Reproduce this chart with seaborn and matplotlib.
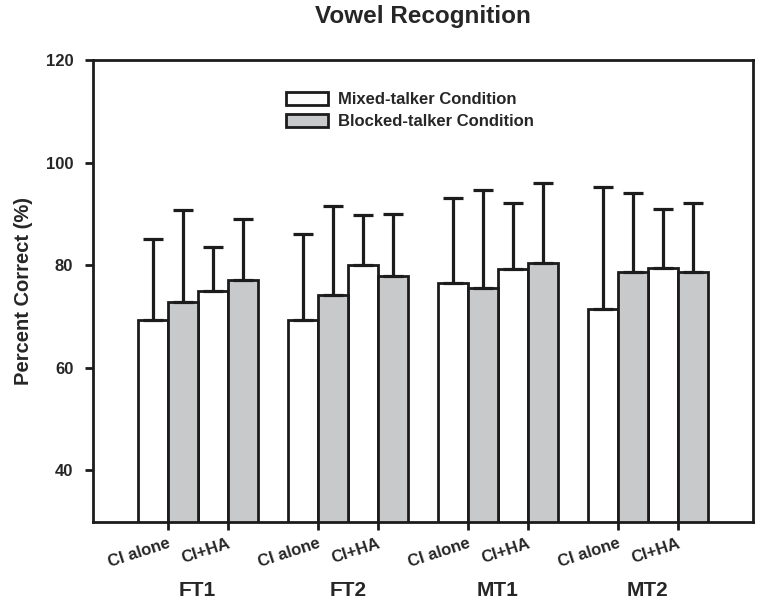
import matplotlib
matplotlib.use("Agg")
import matplotlib.pyplot as plt
import matplotlib.patches as mpatches
import matplotlib.transforms as mtransforms
import numpy as np
import pandas as pd
import seaborn as sns

groups = ['FT1', 'FT2', 'MT1', 'MT2']
conditions = ['CI alone', 'CI+HA']
mixed_mean = [69.3, 75.0, 69.3, 80.0, 76.5, 79.2, 71.5, 79.5]
mixed_sd = [15.8, 8.5, 16.8, 9.8, 16.5, 12.9, 23.8, 11.4]
blocked_mean = [72.9, 77.1, 74.1, 77.9, 75.5, 80.4, 78.6, 78.7]
blocked_sd = [17.9, 11.9, 17.4, 12.1, 19.2, 15.6, 15.5, 13.4]
series = ['Mixed-talker Condition', 'Blocked-talker Condition']
yticks = [40, 60, 80, 100, 120]

sns.set_style("ticks")
plt.rcParams['font.family'] = ['Liberation Sans', 'DejaVu Sans']

# pair centres: 4 bars per talker group, one bar-width gap between groups
pos = [g * 5 + 2.5 + c * 2 for g in range(len(groups)) for c in range(len(conditions))]
labels = [c for g in groups for c in conditions]

df = pd.DataFrame({
    'pos': pos * 2,
    'value': mixed_mean + blocked_mean,
    'sd': mixed_sd + blocked_sd,
    'series': [series[0]] * len(pos) + [series[1]] * len(pos),
})

fig = plt.figure(figsize=(7.62, 6.04), dpi=100)
ax = fig.add_axes([0.1217, 0.1363, 0.866, 0.7644])

edge = '#1c1c1c'
gray = '#c8c9cb'
sns.barplot(data=df, x='pos', y='value', hue='series', native_scale=True, width=1.0,
            palette={series[0]: 'white', series[1]: gray}, edgecolor=edge, linewidth=2,
            errorbar=None, ax=ax)

for cont, s in zip(ax.containers, series):
    sds = df[df.series == s].sd.values
    xs = [b.get_x() + b.get_width() / 2 for b in cont]
    hs = [b.get_height() for b in cont]
    ax.errorbar(xs, hs, yerr=[np.zeros(len(sds)), sds], fmt='none', ecolor=edge,
                elinewidth=2.3, capsize=7, capthick=2.3, zorder=1)

ax.set_xlim(0, 22)
ax.set_ylim(30, 120)
ax.set_yticks(yticks)
ax.set_yticklabels([str(t) for t in yticks], fontsize=12, fontweight='bold')
ax.set_xticks(pos)
ax.set_xticklabels(labels, rotation=18, ha='right', rotation_mode='anchor',
                   fontsize=12, fontweight='bold')
for lab in ax.get_xticklabels():
    lab.set_transform(lab.get_transform() + mtransforms.ScaledTranslation(0.07, 0.0, fig.dpi_scale_trans))
ax.tick_params(axis='both', direction='out', length=6, width=2, color=edge)
ax.tick_params(axis='y', pad=8)
ax.tick_params(axis='x', pad=4)
ax.set_xlabel('')
ax.set_ylabel('Percent Correct (%)', fontsize=14.5, fontweight='bold', labelpad=9)
for sp in ax.spines.values():
    sp.set_visible(True)
    sp.set_linewidth(2)
    sp.set_color(edge)

trans = mtransforms.blended_transform_factory(ax.transData, ax.transAxes)
for i, g in enumerate(groups):
    ax.text(i * 5 + 3.5, -0.148, g, transform=trans, ha='center', va='center',
            fontsize=15, fontweight='bold')

handles = [mpatches.Patch(facecolor='white', edgecolor=edge, linewidth=2, label=series[0]),
           mpatches.Patch(facecolor=gray, edgecolor=edge, linewidth=2, label=series[1])]
ax.legend(handles=handles, loc='upper left', bbox_to_anchor=(0.293, 0.93), frameon=False,
          handlelength=2.5, handleheight=0.8, handletextpad=0.6, labelspacing=0.4,
          borderpad=0, borderaxespad=0, prop={'weight': 'bold', 'size': 12})

fig.text(0.5548, 1 - 16 / 604, 'Vowel Recognition', ha='center', va='center',
         fontsize=17.5, fontweight='bold')

fig.savefig('out.png', dpi=100)
